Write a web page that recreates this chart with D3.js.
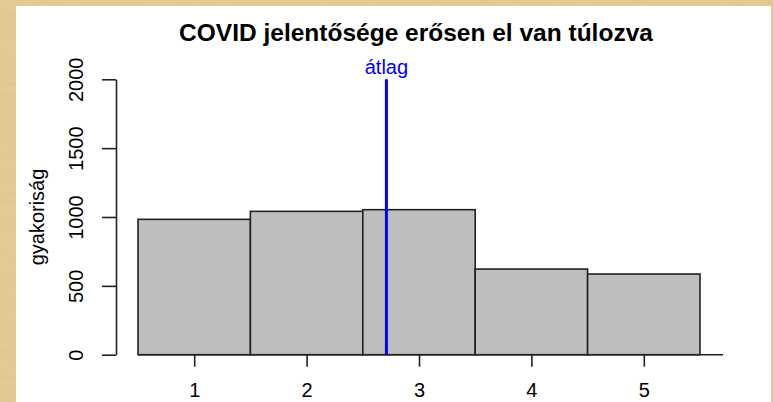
<!DOCTYPE html>
<html>
<head>
<meta charset="utf-8">
<style>
body { margin: 0; }
svg { display: block; font-family: "Liberation Sans", Arial, sans-serif; }
</style>
<script src="https://cdn.jsdelivr.net/npm/d3@7"></script>
</head>
<body>
<script>
// histogram data: answer categories 1..5 and their counts
var categories = [1, 2, 3, 4, 5];
var counts = [983, 1041, 1053, 622, 586];
var yTicks = [0, 500, 1000, 1500, 2000];
var meanValue = 2.71;
var title = "COVID jelentősége erősen el van túlozva";
var yLabel = "gyakoriság";
var meanLabel = "átlag";

var W = 773, H = 402;

var svg = d3.select("body").append("svg")
    .attr("width", W).attr("height", H);

// parchment background
var defs = svg.append("defs");
var filt = defs.append("filter").attr("id", "paper");
filt.append("feTurbulence").attr("type", "fractalNoise")
    .attr("baseFrequency", "0.04 0.25").attr("numOctaves", 3).attr("seed", 4);
filt.append("feColorMatrix").attr("type", "matrix")
    .attr("values", "0 0 0 0 0.62  0 0 0 0 0.47  0 0 0 0 0.22  0 0 0 0.6 0");
filt.append("feComposite").attr("in2", "SourceGraphic").attr("operator", "in");

svg.append("rect").attr("width", W).attr("height", H).attr("fill", "#e7cc95");
svg.append("rect").attr("width", W).attr("height", H).attr("fill", "#e7cc95")
    .attr("filter", "url(#paper)").attr("opacity", 0.5);

// white plotting panel
svg.append("rect").attr("x", 16).attr("y", 6).attr("width", 755).attr("height", H - 6)
    .attr("fill", "#ffffff");

var x = d3.scaleLinear().domain([0.5, 5.5]).range([138, 700]);
var y = d3.scaleLinear().domain([0, 2000]).range([354.7, 79.3]);

// bars
svg.append("g").selectAll("rect")
    .data(categories)
  .enter().append("rect")
    .attr("x", function(d) { return x(d - 0.5); })
    .attr("width", function(d) { return x(d + 0.5) - x(d - 0.5); })
    .attr("y", function(d, i) { return y(counts[i]); })
    .attr("height", function(d, i) { return y(0) - y(counts[i]); })
    .attr("fill", "#bebebe")
    .attr("stroke", "#222")
    .attr("stroke-width", 1.6);

// baseline
svg.append("line")
    .attr("x1", x(0.5)).attr("x2", x(5.705))
    .attr("y1", y(0)).attr("y2", y(0))
    .attr("stroke", "#222").attr("stroke-width", 1.6);

// x axis
var xAxis = svg.append("g")
    .attr("transform", "translate(0," + y(0) + ")")
    .call(d3.axisBottom(x).tickValues(categories).tickSize(12).tickSizeOuter(0).tickFormat(d3.format("d")));
xAxis.select(".domain").remove();
xAxis.selectAll("line").attr("stroke", "#222").attr("stroke-width", 1.6);
xAxis.selectAll("text")
    .attr("y", 28).attr("dy", "0.71em")
    .attr("font-size", 20).attr("font-family", "Liberation Sans, Arial, sans-serif")
    .attr("fill", "#000");

// y axis
var yAxis = svg.append("g")
    .attr("transform", "translate(116,0)")
    .call(d3.axisLeft(y).tickValues(yTicks).tickSize(14).tickSizeOuter(0).tickFormat(d3.format("d")));
yAxis.select(".domain").attr("stroke", "#222").attr("stroke-width", 1.6);
yAxis.selectAll("line").attr("stroke", "#222").attr("stroke-width", 1.6);
yAxis.selectAll("text")
    .attr("x", null).attr("dy", null)
    .attr("transform", "translate(-33,0) rotate(-90)")
    .attr("text-anchor", "middle")
    .attr("font-size", 20).attr("font-family", "Liberation Sans, Arial, sans-serif")
    .attr("fill", "#000");

// y label
svg.append("text")
    .attr("transform", "translate(44," + y(1000) + ") rotate(-90)")
    .attr("text-anchor", "middle")
    .attr("font-size", 20)
    .text(yLabel);

// mean line
svg.append("line")
    .attr("x1", x(meanValue)).attr("x2", x(meanValue))
    .attr("y1", y(2000)).attr("y2", y(0))
    .attr("stroke", "#0000ff").attr("stroke-width", 3);
svg.append("text")
    .attr("x", x(meanValue)).attr("y", 74)
    .attr("text-anchor", "middle")
    .attr("font-size", 20)
    .attr("fill", "#0000ff")
    .text(meanLabel);

// title
svg.append("text")
    .attr("x", 416).attr("y", 41)
    .attr("text-anchor", "middle")
    .attr("font-size", 24.5)
    .attr("font-weight", "bold")
    .text(title);
</script>
</body>
</html>
